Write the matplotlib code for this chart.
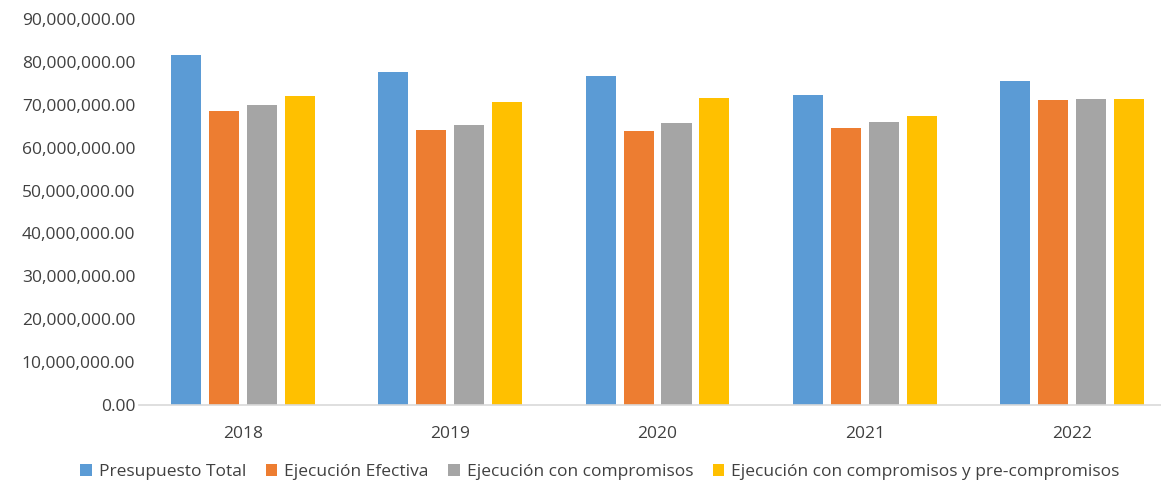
import numpy as np
import matplotlib.pyplot as plt
from matplotlib.ticker import FuncFormatter

years = ["2018", "2019", "2020", "2021", "2022"]
series_names = ["Presupuesto Total", "Ejecución Efectiva", "Ejecución con compromisos",
                "Ejecución con compromisos y pre-compromisos"]
presupuesto = [81.6e6, 77.7e6, 76.7e6, 72.3e6, 75.6e6]
efectiva = [68.6e6, 64.2e6, 64.0e6, 64.7e6, 71.0e6]
compromisos = [69.9e6, 65.2e6, 65.7e6, 66.0e6, 71.3e6]
pre_compromisos = [72.0e6, 70.6e6, 71.5e6, 67.4e6, 71.4e6]
colors = ["#5b9bd5", "#ed7d31", "#a5a5a5", "#ffc000"]

plt.rcParams['font.family'] = ['Open Sans', 'DejaVu Sans']

W, H = 1161, 483
fig = plt.figure(figsize=(W / 100, H / 100), dpi=100)
# plot area: left edge at 139 px, runs to the right edge of the picture
left_px, bottom_px, top_px = 139.4, 405, 19
ax = fig.add_axes([left_px / W, (H - bottom_px) / H, 1 - left_px / W, (bottom_px - top_px) / H])

x = np.arange(len(years))
width = 0.145
step = 0.183
all_series = [presupuesto, efectiva, compromisos, pre_compromisos]
for i, vals in enumerate(all_series):
    ax.bar(x + (i - 1.5) * step, vals, width, color=colors[i], label=series_names[i])

cat_px = 207.25
ax.set_xlim(-0.5, (W - left_px) / cat_px - 0.5)
ax.set_ylim(0, 90e6)
ax.set_yticks(np.arange(0, 90e6 + 1, 10e6))
ax.yaxis.set_major_formatter(FuncFormatter(lambda v, p: f"{v:,.2f}"))
ax.set_xticks(x)
ax.set_xticklabels(years)

for s in ["top", "right", "left"]:
    ax.spines[s].set_visible(False)
ax.spines["bottom"].set_color("#d9d9d9")
ax.spines["bottom"].set_linewidth(1.2)
ax.tick_params(axis="both", length=0, labelsize=12.5, colors="#404040")
ax.tick_params(axis="x", pad=15)
ax.tick_params(axis="y", pad=3)

fig.legend(loc="center", bbox_to_anchor=(600 / W, (H - 472) / H), ncol=4, frameon=False,
           fontsize=12.5, handlelength=0.65, handleheight=0.65, handletextpad=0.4,
           columnspacing=1.15, labelcolor="#404040")

fig.savefig("out.png", dpi=100)
